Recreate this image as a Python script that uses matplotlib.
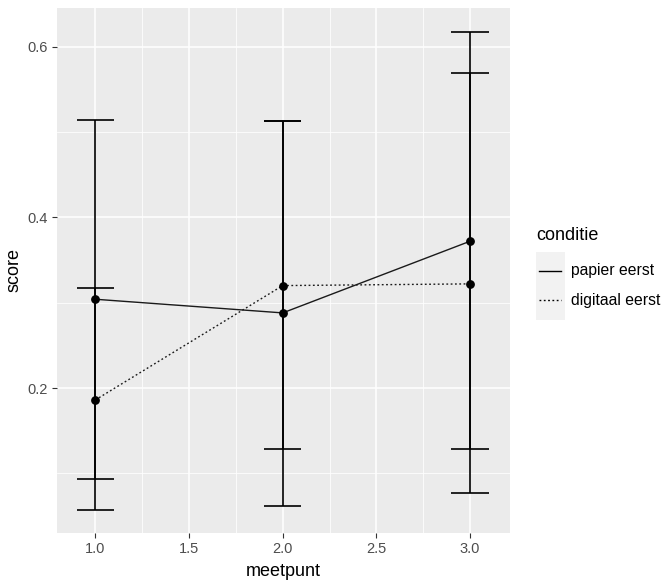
import matplotlib.pyplot as plt
from matplotlib.lines import Line2D
from matplotlib.patches import Rectangle

plt.rcParams['font.family'] = ['Liberation Sans', 'DejaVu Sans']

# data
meetpunt = [1.0, 2.0, 3.0]
papier_mean = [0.304, 0.288, 0.372]
papier_lo = [0.093, 0.062, 0.128]
papier_hi = [0.514, 0.513, 0.617]
digitaal_mean = [0.186, 0.320, 0.322]
digitaal_lo = [0.057, 0.128, 0.077]
digitaal_hi = [0.317, 0.513, 0.569]
labels = ['papier eerst', 'digitaal eerst']
stijlen = ['-', (0, (1.3, 1.8))]

W, H = 665, 586
fig = plt.figure(figsize=(W / 100, H / 100), dpi=100)
ax = fig.add_axes([0.085, 0.091, 0.682, 0.895])
ax.set_facecolor('#EBEBEB')
for s in ax.spines.values():
    s.set_visible(False)

# grid
ax.set_xticks([1.0, 1.5, 2.0, 2.5, 3.0])
ax.set_xticks([1.25, 1.75, 2.25, 2.75], minor=True)
ax.set_yticks([0.2, 0.4, 0.6])
ax.set_yticks([0.1, 0.3, 0.5], minor=True)
ax.grid(which='major', color='white', linewidth=1.1)
ax.grid(which='minor', color='white', linewidth=0.55)
ax.set_axisbelow(True)
ax.tick_params(which='minor', length=0)
ax.tick_params(which='major', length=3.6, width=0.8, color='#333333',
               labelcolor='#4D4D4D', labelsize=10.5, pad=3)

# error bars
hw = 0.1
for lo, hi in [(papier_lo, papier_hi), (digitaal_lo, digitaal_hi)]:
    ax.vlines(meetpunt, lo, hi, color='black', linewidth=1.2, zorder=3)
    ax.hlines(lo, [x - hw for x in meetpunt], [x + hw for x in meetpunt],
              color='black', linewidth=1.2, zorder=3)
    ax.hlines(hi, [x - hw for x in meetpunt], [x + hw for x in meetpunt],
              color='black', linewidth=1.2, zorder=3)

# lines + points
ax.plot(meetpunt, papier_mean, color='#1a1a1a', linewidth=1.0,
        linestyle=stijlen[0], zorder=4)
ax.plot(meetpunt, digitaal_mean, color='#1a1a1a', linewidth=1.0,
        linestyle=stijlen[1], zorder=4)
ax.scatter(meetpunt, papier_mean, s=28, color='black', zorder=5)
ax.scatter(meetpunt, digitaal_mean, s=28, color='black', zorder=5)

ax.set_xlim(0.793, 3.213)
ax.set_ylim(0.0305, 0.645)
ax.set_xlabel('meetpunt', fontsize=13, labelpad=5)
ax.set_ylabel('score', fontsize=13, labelpad=3)

# legend (hand made, pixel positions)
fig.add_artist(Rectangle((536 / W, 1 - 320 / H), 29 / W, 68 / H,
                         transform=fig.transFigure, facecolor='#F2F2F2',
                         edgecolor='none'))
fig.text(536 / W, 1 - 235 / H, 'conditie', fontsize=13, va='center', ha='left')
for i, (lab, st) in enumerate(zip(labels, stijlen)):
    yk = 1 - (271 + 29 * i) / H
    fig.add_artist(Line2D([539 / W, 561 / W], [yk, yk], color='black',
                          linewidth=1.0, linestyle=st,
                          transform=fig.transFigure))
    fig.text(571 / W, yk, lab, fontsize=11.3, va='center', ha='left')

fig.savefig('out.png', dpi=100)
